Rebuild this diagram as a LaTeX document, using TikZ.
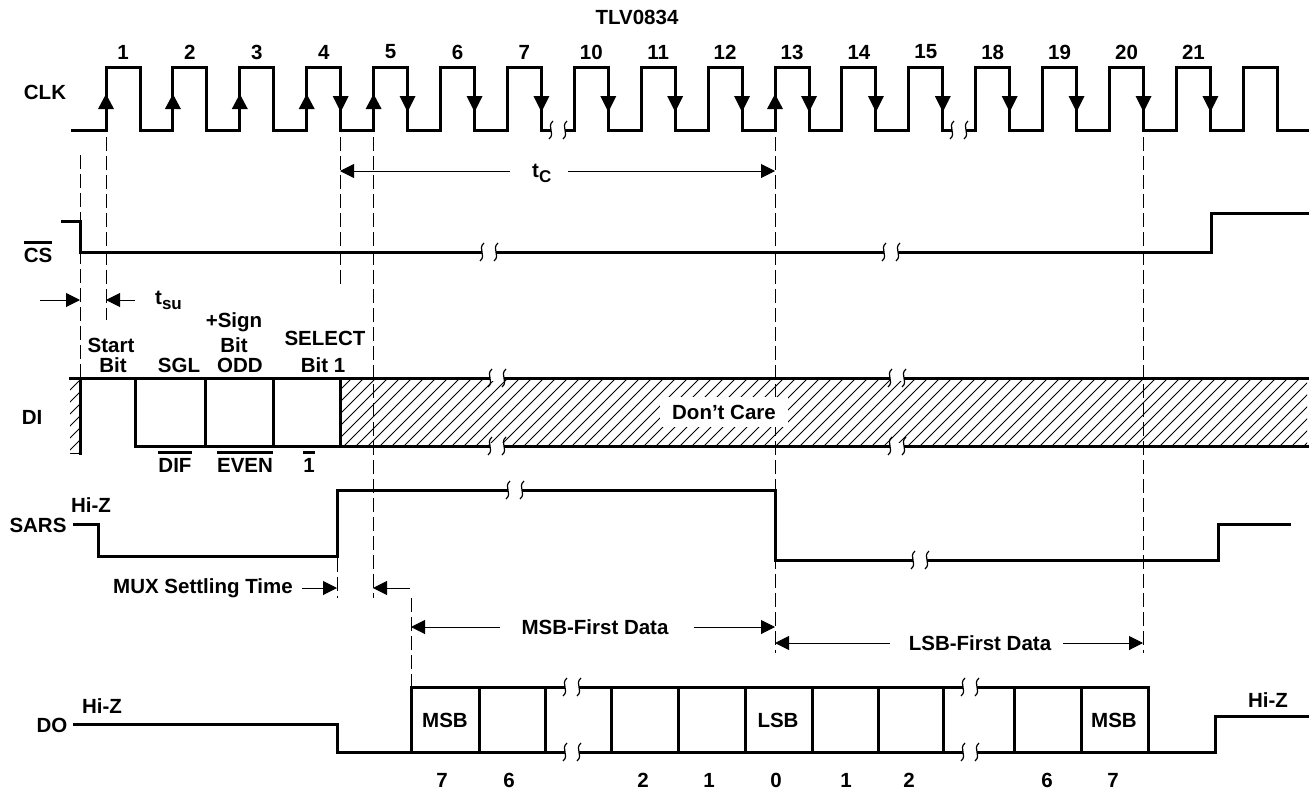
\documentclass[tikz,border=0pt]{standalone}
\usepackage{fontspec}
\setmainfont{Liberation Sans}
\usetikzlibrary{arrows.meta}
\newcommand{\lblfont}{\fontsize{20.5}{22}\selectfont\bfseries}
\newcommand{\subf}{\fontsize{17}{17}\selectfont\bfseries}
\newcommand{\ovl}[1]{\vbox{\hrule height 2.5pt\kern 4pt\hbox{#1}}}
\begin{document}
\begin{tikzpicture}[x=1pt,y=-1pt,
  sig/.style={line width=3pt,line join=miter,line cap=rect},
  dim/.style={line width=1pt},
  dsh/.style={line width=1pt,dash pattern=on 14pt off 5pt},
  tip/.style={-{Triangle[length=14pt,width=14pt]}},
  lbl/.style={font=\lblfont,inner sep=0pt},
  hl/.style={line width=0.75pt},
  brk/.pic={
    \fill[white] (-7,-3) rectangle (7,3);
    \foreach \k in {-7,7}
      \draw[line width=1.2pt] ({\k+2},-9) .. controls ({\k-5},-3) and ({\k+5},3) .. ({\k-2},9);
  }]
\useasboundingbox (0,0) rectangle (1312,790);

% ---------- title and signal names
\node[lbl] (title) at (637,17) {TLV0834};
\node[lbl] (clk) at (45,92) {CLK};
\node[lbl,anchor=base] (cs) at (38,262) {\ovl{CS}};
\node[lbl] (di) at (32,417) {DI};
\node[lbl] (sars) at (38,525) {SARS};
\node[lbl] (do) at (52,725) {DO};
\node[lbl] (hz1) at (91,505) {Hi-Z};
\node[lbl] (hz2) at (102,706) {Hi-Z};
\node[lbl] (hz3) at (1268,700) {Hi-Z};

% ---------- CLK
\draw[sig] (72,130) foreach \i in {0,...,17}{
   -- ({106+66.9*\i},130) -- ({106+66.9*\i},67) -- ({140+66.9*\i},67) -- ({140+66.9*\i},130) }
   -- (1307,130);
\foreach \i in {0,1,2,3,4,10}
  \fill ({106+66.9*\i},94) -- ++(-8,15) -- ++(16,0) -- cycle;
\foreach \i in {3,...,16}
  \fill ({140+66.9*\i},112) -- ++(-8,-16) -- ++(16,0) -- cycle;
\foreach \i/\n in {0/1,1/2,2/3,3/4,4/5,5/6,6/7,7/10,8/11,9/12,10/13,11/14,12/15,13/18,14/19,15/20,16/21}
  \node[lbl] (n\n) at ({123+66.9*\i},52) {\n};
\pic at (558,130) {brk};
\pic at (959,130) {brk};

% ---------- dashed guide lines
\draw[dsh] (80,155) -- (80,378);
\draw[dsh] (106,137) -- (106,320);
\draw[dsh] (340,137) -- (340,288);
\draw[dsh] (373,137) -- (373,598);
\draw[dsh] (775,137) -- (775,653);
\draw[dsh] (1143,137) -- (1143,653);
\draw[dsh] (337,558) -- (337,598);
\draw[dsh] (411,598) -- (411,687);

% ---------- tc
\node[lbl,anchor=base west] (tc) at (532,177) {t\raisebox{-5pt}{\subf C}};
\coordinate (tcL) at (340,171);
\coordinate (tcR) at (775,171);
\draw[dim,tip] (510,171) -- (tcL);
\draw[dim,tip] (568,171) -- (tcR);

% ---------- CS
\draw[sig] (62,221) -- (80,221) -- (80,252) -- (1211,252) -- (1211,213) -- (1307,213);
\pic at (489,252) {brk};
\pic at (891,252) {brk};

% ---------- tsu
\node[lbl,anchor=base west] (tsu) at (155,304) {t\raisebox{-5pt}{\subf su}};
\draw[dim,tip] (40,300) -- (80,300);
\draw[dim,tip] (135,300) -- (106,300);

% ---------- DI labels
\node[lbl,anchor=base] at (111,352) {Start};
\node[lbl,anchor=base] at (113,372) {Bit};
\node[lbl,anchor=base] at (179,372) {SGL};
\node[lbl,anchor=base] at (234,327) {+Sign};
\node[lbl,anchor=base] at (234,352) {Bit};
\node[lbl,anchor=base] at (240,372) {ODD};
\node[lbl,anchor=base] at (325,345) {SELECT};
\node[lbl,anchor=base] at (323,372) {Bit 1};
\node[lbl,anchor=base] at (175,472) {\ovl{DIF}};
\node[lbl,anchor=base] at (245,472) {\ovl{EVEN}};
\node[lbl,anchor=base] at (309,472) {\ovl{1}};

% ---------- DI hatching
\begin{scope}
  \clip (340,378) rectangle (1307,446);
  \foreach \x in {0,...,88} \draw[hl] ({272+12*\x},446) -- ++(68,-68);
\end{scope}
\begin{scope}
  \clip (70,378) rectangle (80,453);
  \foreach \x in {0,...,8} \draw[hl] ({-5+12*\x},453) -- ++(75,-75);
\end{scope}
\draw[hl] (70,453) -- (80,453);
\node[lbl,fill=white,inner xsep=12pt,inner ysep=8pt] (dc) at (724,412) {Don’t Care};

\draw[sig] (70,378) -- (1307,378);
\draw[sig] (80,378) -- (80,453);
\draw[sig] (135,378) -- (135,446) -- (1307,446);
\foreach \x in {205,273,340} \draw[sig] (\x,378) -- (\x,446);
\pic at (497,378) {brk};
\pic at (497,446) {brk};
\pic at (897,378) {brk};
\pic at (897,446) {brk};

% ---------- SARS
\draw[sig] (74,524) -- (98,524) -- (98,556) -- (337,556) -- (337,490) -- (775,490)
   -- (775,560) -- (1218,560) -- (1218,524) -- (1289,524);
\pic at (515,490) {brk};
\pic at (920,560) {brk};

% ---------- MUX settling
\node[lbl,anchor=east] (mux) at (293,588) {MUX Settling Time};
\draw[dim,tip] ([xshift=9pt]mux.east) -- (337,588);
\draw[dim,tip] (410,588) -- (373,588);

% ---------- MSB / LSB first
\node[lbl] (msbf) at (595,627) {MSB-First Data};
\draw[dim,tip] ([xshift=-21pt]msbf.west) -- (411,627);
\draw[dim,tip] ([xshift=25pt]msbf.east) -- (775,627);
\node[lbl] (lsbf) at (980,643) {LSB-First Data};
\draw[dim,tip] ([xshift=-19pt]lsbf.west) -- (775,643);
\draw[dim,tip] ([xshift=12pt]lsbf.east) -- (1143,643);

% ---------- DO
\draw[sig] (74,724) -- (337,724) -- (337,752) -- (1215,752) -- (1215,716) -- (1307,716);
\draw[sig] (411,687) -- (1148,687);
\foreach \x in {411,479,545,611,678,745,812,878,943,1014,1081,1148}
  \draw[sig] (\x,687) -- (\x,752);
\pic at (572,687) {brk};
\pic at (572,752) {brk};
\pic at (970,687) {brk};
\pic at (970,752) {brk};
\node[lbl] (b1) at (445,720) {MSB};
\node[lbl] (b2) at (778,720) {LSB};
\node[lbl] (b3) at (1114,720) {MSB};
\foreach \x/\t in {442/7,509/6,643/2,709/1,776/0,846/1,909/2,1047/6,1113/7}
  \node[lbl,anchor=base] at (\x,787) {\t};
\end{tikzpicture}
\end{document}
